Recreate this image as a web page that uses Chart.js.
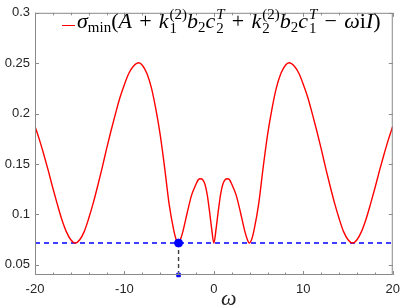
<!DOCTYPE html>
<html lang="en">
<head>
    <meta charset="UTF-8">
    <title>sigma min</title>
    <script src="https://cdn.jsdelivr.net/npm/chart.js"></script>
    <style>
        body { margin: 0; background: white; }
        .wrap { position: relative; width: 407px; height: 307px; }
        canvas { position: absolute; left: 0; top: 0; }
        #legLine { position: absolute; left: 62px; top: 25px; width: 13px; height: 1.4px; background: #ff0000; }
        #legText {
            position: absolute; left: 77px; top: 6px;
            font-family: "Liberation Serif", serif; font-size: 22px; color: #000;
            white-space: nowrap; line-height: 30px;
        }
        .mi { font-style: italic; }
        .sb { font-size: 0.68em; vertical-align: -0.3em; }
        .ss { display: inline-flex; flex-direction: column; font-size: 0.68em; line-height: 0.95; vertical-align: 0.62em; margin-left: 1px; }
        .op { margin: 0 0.33em; }
        #xTitle {
            position: absolute; left: 221px; top: 285px;
            font-family: "Liberation Serif", serif; font-style: italic; font-size: 22px; color: #262626;
        }
    </style>
</head>
<body>
<div class="wrap">
    <canvas id="sigmaChart" width="407" height="307"></canvas>
    <div id="legLine"></div>
    <div id="legText"><span class="mi">σ</span><span class="sb">min</span>(<span class="mi">A</span><span class="op">+</span><span class="mi">k</span><span class="ss"><span>(2)</span><span>1</span></span><span class="mi">b</span><span class="sb">2</span><span class="mi">c</span><span class="ss"><span class="mi">T</span><span>2</span></span><span class="op">+</span><span class="mi">k</span><span class="ss"><span>(2)</span><span>2</span></span><span class="mi">b</span><span class="sb">2</span><span class="mi">c</span><span class="ss"><span class="mi">T</span><span>1</span></span><span class="op">−</span><span class="mi">ω</span>i<span class="mi">I</span>)</div>
    <div id="xTitle">ω</div>
</div>

<script>
    // values
    const omega = [-20, -19.5, -19, -18.5, -18, -17.5, -17, -16.5, -16, -15.5, -15, -14.5, -14, -13.5, -13, -12.5,
        -12, -11.5, -11, -10.5, -10, -9.5, -9, -8.4, -8, -7.5, -7, -6.5, -6, -5.5, -5, -4.5, -4.25, -3.95, -3.75,
        -3.5, -3, -2.5, -2, -1.75, -1.5, -1.25, -1, -0.75, -0.5, -0.25, 0,
        0.25, 0.5, 0.75, 1, 1.25, 1.5, 1.75, 2, 2.5, 3, 3.5, 3.75, 3.95, 4.25, 4.5, 5, 5.5, 6, 6.5, 7, 7.5, 8, 8.4,
        9, 9.5, 10, 10.5, 11, 11.5, 12, 12.5, 13, 13.5, 14, 14.5, 15, 15.5, 16, 16.5, 17, 17.5, 18, 18.5, 19, 19.5, 20];
    const sigmaMin = [0.1875, 0.174, 0.159, 0.143, 0.126, 0.110, 0.095, 0.083, 0.075, 0.0717, 0.075, 0.083, 0.096, 0.111, 0.128, 0.146,
        0.165, 0.183, 0.200, 0.216, 0.229, 0.240, 0.247, 0.2505, 0.248, 0.240, 0.226, 0.205, 0.179, 0.146, 0.110, 0.085, 0.076, 0.0717, 0.075,
        0.082, 0.101, 0.119, 0.130, 0.1345, 0.1355, 0.1345, 0.130, 0.120, 0.104, 0.086, 0.0717,
        0.086, 0.104, 0.120, 0.130, 0.1345, 0.1355, 0.1345, 0.130, 0.119, 0.101, 0.082, 0.075, 0.0717, 0.076, 0.085, 0.110, 0.146, 0.179, 0.205, 0.226, 0.240, 0.248, 0.2505,
        0.247, 0.240, 0.229, 0.216, 0.200, 0.183, 0.165, 0.146, 0.128, 0.111, 0.096, 0.083, 0.075, 0.0717, 0.075, 0.083, 0.095, 0.110, 0.126, 0.143, 0.159, 0.174, 0.1875];

    const floorLevel = 0.0717;   // blue dashed level
    const optOmega = -3.95;      // marked minimiser
    const xRange = [-20, 20];
    const yRange = [0.04, 0.3];
    const xTicks = [-20, -10, 0, 10, 20];
    const xMinorTicks = [-18, -16, -14, -12, -8, -6, -4, -2, 2, 4, 6, 8, 12, 14, 16, 18];
    const yTicks = [0.05, 0.1, 0.15, 0.2, 0.25, 0.3];

    // matlab-ish box with inward ticks
    const axesBox = {
        id: 'axesBox',
        afterDraw(chart) {
            const { ctx, chartArea: a, scales } = chart;
            ctx.save();
            ctx.strokeStyle = '#8a8a8a';
            ctx.lineWidth = 1;
            ctx.strokeRect(a.left + 0.5, a.top + 0.5, a.right - a.left - 1, a.bottom - a.top - 1);
            ctx.beginPath();
            xTicks.forEach(v => {
                const px = Math.round(scales.x.getPixelForValue(v)) + 0.5;
                ctx.moveTo(px, a.bottom); ctx.lineTo(px, a.bottom - 4);
                ctx.moveTo(px, a.top); ctx.lineTo(px, a.top + 4);
            });
            xMinorTicks.forEach(v => {
                const px = Math.round(scales.x.getPixelForValue(v)) + 0.5;
                ctx.moveTo(px, a.bottom); ctx.lineTo(px, a.bottom - 2.5);
                ctx.moveTo(px, a.top); ctx.lineTo(px, a.top + 2.5);
            });
            yTicks.forEach(v => {
                const py = Math.round(scales.y.getPixelForValue(v)) + 0.5;
                ctx.moveTo(a.left, py); ctx.lineTo(a.left + 4, py);
                ctx.moveTo(a.right, py); ctx.lineTo(a.right - 4, py);
            });
            ctx.stroke();
            ctx.restore();
        }
    };

    const tickFont = { family: 'Liberation Sans', size: 13 };

    const ctx = document.getElementById('sigmaChart').getContext('2d');
    new Chart(ctx, {
        type: 'line',
        data: {
            datasets: [
                {
                    data: omega.map((w, i) => ({ x: w, y: sigmaMin[i] })),
                    borderColor: '#ff0000',
                    borderWidth: 1.4,
                    pointRadius: 0,
                    cubicInterpolationMode: 'monotone',
                    order: 2
                },
                {
                    data: [{ x: xRange[0], y: floorLevel }, { x: xRange[1], y: floorLevel }],
                    borderColor: '#0000ff',
                    borderWidth: 1.4,
                    borderDash: [5, 4],
                    pointRadius: 0,
                    order: 3
                },
                {
                    data: [{ x: optOmega, y: floorLevel }, { x: optOmega, y: yRange[0] }],
                    borderColor: '#404040',
                    borderWidth: 1.4,
                    borderDash: [4, 3],
                    pointRadius: 0,
                    order: 1
                },
                {
                    data: [{ x: optOmega, y: floorLevel }],
                    showLine: false,
                    pointRadius: 4,
                    pointBackgroundColor: '#0000ff',
                    pointBorderColor: '#0000ff',
                    clip: false,
                    order: 0
                },
                {
                    data: [{ x: optOmega, y: yRange[0] }],
                    showLine: false,
                    pointStyle: 'rect',
                    pointRadius: 2.5,
                    pointBackgroundColor: '#0000ff',
                    pointBorderColor: '#0000ff',
                    clip: false,
                    order: 0
                }
            ]
        },
        options: {
            responsive: false,
            animation: false,
            layout: { padding: { top: 7, right: 8, left: 0, bottom: 0 } },
            plugins: { legend: { display: false }, tooltip: { enabled: false } },
            scales: {
                x: {
                    type: 'linear',
                    min: xRange[0], max: xRange[1],
                    afterBuildTicks: s => { s.ticks = xTicks.map(v => ({ value: v })); },
                    afterFit: s => { s.height = 32; },
                    grid: { display: false, drawTicks: false },
                    border: { display: false },
                    ticks: { padding: 7, color: '#262626', font: tickFont, maxRotation: 0, autoSkip: false }
                },
                y: {
                    type: 'linear',
                    min: yRange[0], max: yRange[1],
                    afterBuildTicks: s => { s.ticks = yTicks.map(v => ({ value: v })); },
                    afterFit: s => { s.width = 35; },
                    grid: { display: false, drawTicks: false },
                    border: { display: false },
                    ticks: {
                        padding: 5, color: '#262626', font: tickFont, autoSkip: false,
                        callback: v => String(+v.toFixed(2))
                    }
                }
            }
        },
        plugins: [axesBox]
    });
</script>
</body>
</html>
